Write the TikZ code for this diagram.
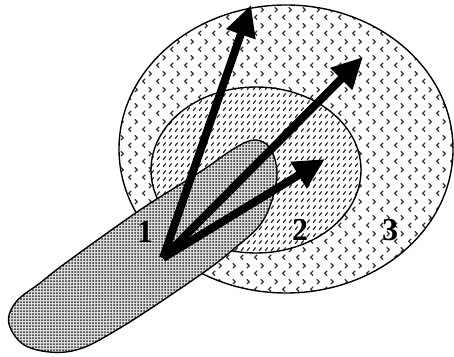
\documentclass[tikz,border=0pt]{standalone}
\usepackage{fontspec}
\setmainfont{Liberation Serif}
\usetikzlibrary{arrows.meta,patterns}

\pgfdeclarepatternformonly{chevrons}{\pgfqpoint{0pt}{0pt}}{\pgfqpoint{14pt}{16pt}}{\pgfqpoint{14pt}{16pt}}{%
  \pgfsetlinewidth{1.3pt}
  \pgfpathmoveto{\pgfqpoint{5.5pt}{1.5pt}}\pgfpathlineto{\pgfqpoint{3pt}{4pt}}\pgfpathlineto{\pgfqpoint{5.5pt}{6.5pt}}
  \pgfpathmoveto{\pgfqpoint{9.5pt}{9.5pt}}\pgfpathlineto{\pgfqpoint{12pt}{12pt}}\pgfpathlineto{\pgfqpoint{9.5pt}{14.5pt}}
  \pgfusepath{stroke}}
\pgfdeclarepatternformonly{slashes}{\pgfqpoint{0pt}{0pt}}{\pgfqpoint{6pt}{6.5pt}}{\pgfqpoint{6pt}{6.5pt}}{%
  \pgfsetlinewidth{1.3pt}
  \pgfpathmoveto{\pgfqpoint{1.3pt}{1.3pt}}\pgfpathlineto{\pgfqpoint{4.2pt}{4.8pt}}
  \pgfusepath{stroke}}
\pgfdeclarepatternformonly{finedots}{\pgfqpoint{-1.1pt}{-1.1pt}}{\pgfqpoint{2pt}{2pt}}{\pgfqpoint{3pt}{3pt}}{%
  \pgfpathcircle{\pgfqpoint{0pt}{0pt}}{1pt}
  \pgfusepath{fill}}

\begin{document}
\begin{tikzpicture}[x=1pt,y=1pt,
  zone/.style={draw=black, line width=1.4pt},
  ray/.style={line width=8pt, -{Triangle[length=31pt,width=29pt]}},
  num/.style={font=\fontsize{32}{32}\selectfont\bfseries}]
\useasboundingbox (0,0) rectangle (454,356);
% region 3
\draw [zone, preaction={fill=white}, pattern=chevrons, pattern color=black!80] (286,207) ellipse [x radius=167, y radius=144];
% region 2
\draw [zone, preaction={fill=white}, pattern=slashes, pattern color=black!85] (256,186) ellipse [x radius=105, y radius=83];
% region 1
\draw [zone, preaction={fill=gray!25}, pattern=finedots, pattern color=black!85]
  plot [smooth cycle, tension=0.6] coordinates {(9,32) (16,54) (40,73) (67,94) (140,146) (200,184) (235,208) (255,216) (270,208) (277,184) (272,156) (260,131) (235,108) (200,81) (120,28) (72,5) (28,9)};
% arrows
\coordinate (o) at (163,98);
\coordinate (t1) at (251,351);
\coordinate (t2) at (363,299);
\coordinate (t3) at (325,197);
\draw [ray] (o) -- (t1);
\draw [ray] (o) -- (t2);
\draw [ray] (o) -- (t3);
\node [num] (n1) at (145,124) {1};
\node [num] (n2) at (300,126) {2};
\node [num] (n3) at (390,126) {3};
\end{tikzpicture}
\end{document}
